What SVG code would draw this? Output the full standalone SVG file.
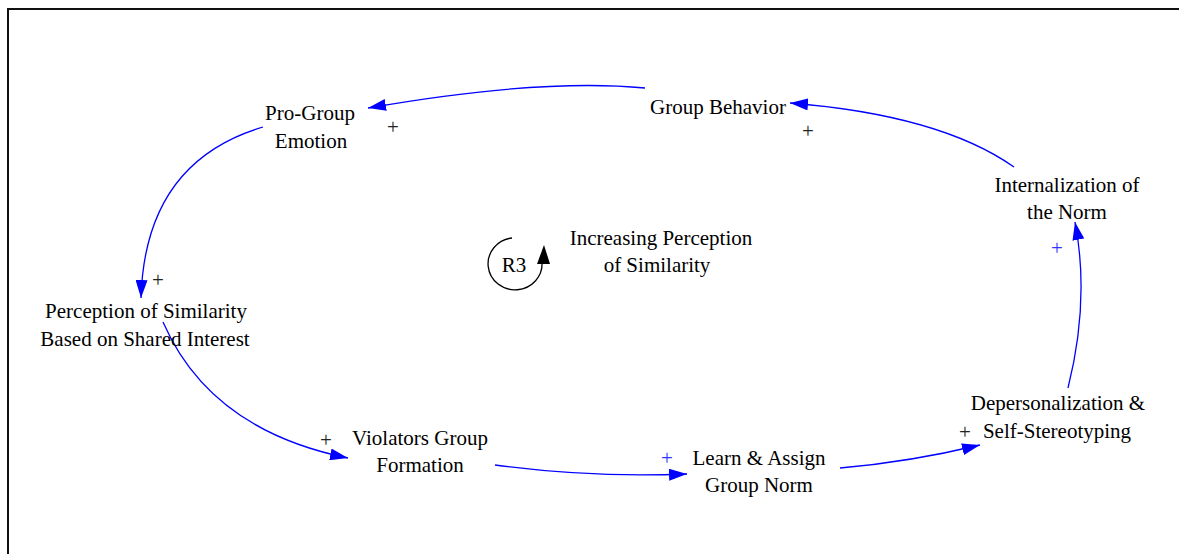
<svg xmlns="http://www.w3.org/2000/svg" width="1179" height="554" viewBox="0 0 1179 554">
  <style>
    text { font-family: 'Liberation Serif', 'Times New Roman', Times, serif; }
    .lbl { font-size: 21px; fill: #000; text-anchor: middle; }
    .pol { font-size: 21px; text-anchor: middle; }
    .blk { fill: #222; }
    .blu { fill: #3333ff; }
    .link { fill: none; stroke: #0000ff; stroke-width: 1.3; marker-end: url(#head); }
  </style>
  <defs>
    <marker id="head" viewBox="0 0 18 12" refX="18" refY="6" markerWidth="18" markerHeight="12" markerUnits="userSpaceOnUse" orient="auto">
      <path d="M0,0 L18,6 L0,12 Z" fill="#0000ff"/>
    </marker>
  </defs>

  <rect width="1179" height="554" fill="#fff"/>
  <!-- frame -->
  <g id="frame" stroke="#111" stroke-width="2" fill="none">
    <line x1="8" y1="9" x2="1179" y2="9"/>
    <line x1="8" y1="8" x2="8" y2="554"/>
  </g>

  <g id="connectors">
    <path class="link" d="M645,88 Q540,78 368,108"/>
    <path class="link" d="M1014,167 Q940,115 790,103"/>
    <path class="link" d="M1068,388 Q1090,300 1075,222"/>
    <path class="link" d="M840,468 Q910,462 980,445"/>
    <path class="link" d="M495,465 Q590,478 687,474"/>
    <path class="link" d="M163,322 Q210,430 348,458"/>
    <path class="link" d="M263,127 Q145,162 141,298"/>
    <text class="pol blk" x="393" y="134">+</text>
    <text class="pol blk" x="808" y="138">+</text>
    <text class="pol blu" x="1057" y="255">+</text>
    <text class="pol blk" x="965" y="439">+</text>
    <text class="pol blu" x="667" y="465">+</text>
    <text class="pol blk" x="326" y="447">+</text>
    <text class="pol blk" x="158" y="287">+</text>
  </g>

  <g id="pro-group-emotion">
    <text class="lbl" x="310" y="120">Pro-Group</text>
    <text class="lbl" x="311" y="148">Emotion</text>
  </g>
  <g id="group-behavior">
    <text class="lbl" x="718" y="114">Group Behavior</text>
  </g>
  <g id="internalization">
    <text class="lbl" x="1067" y="192">Internalization of</text>
    <text class="lbl" x="1067" y="219">the Norm</text>
  </g>
  <g id="depersonalization">
    <text class="lbl" x="1058" y="410">Depersonalization &amp;</text>
    <text class="lbl" x="1057" y="438">Self-Stereotyping</text>
  </g>
  <g id="learn-assign">
    <text class="lbl" x="759" y="465">Learn &amp; Assign</text>
    <text class="lbl" x="759" y="492">Group Norm</text>
  </g>
  <g id="violators">
    <text class="lbl" x="420" y="445">Violators Group</text>
    <text class="lbl" x="420" y="472">Formation</text>
  </g>
  <g id="perception">
    <text class="lbl" x="146" y="318">Perception of Similarity</text>
    <text class="lbl" x="145" y="346">Based on Shared Interest</text>
  </g>

  <g id="loop-r3">
    <path d="M512,238 A27,26 0 1 0 542,262" fill="none" stroke="#000" stroke-width="1.3"/>
    <polygon points="544,245 537,264 550,264" fill="#000"/>
    <text class="lbl" x="514" y="272">R3</text>
    <text class="lbl" x="661" y="245">Increasing Perception</text>
    <text class="lbl" x="657" y="272">of Similarity</text>
  </g>
</svg>
